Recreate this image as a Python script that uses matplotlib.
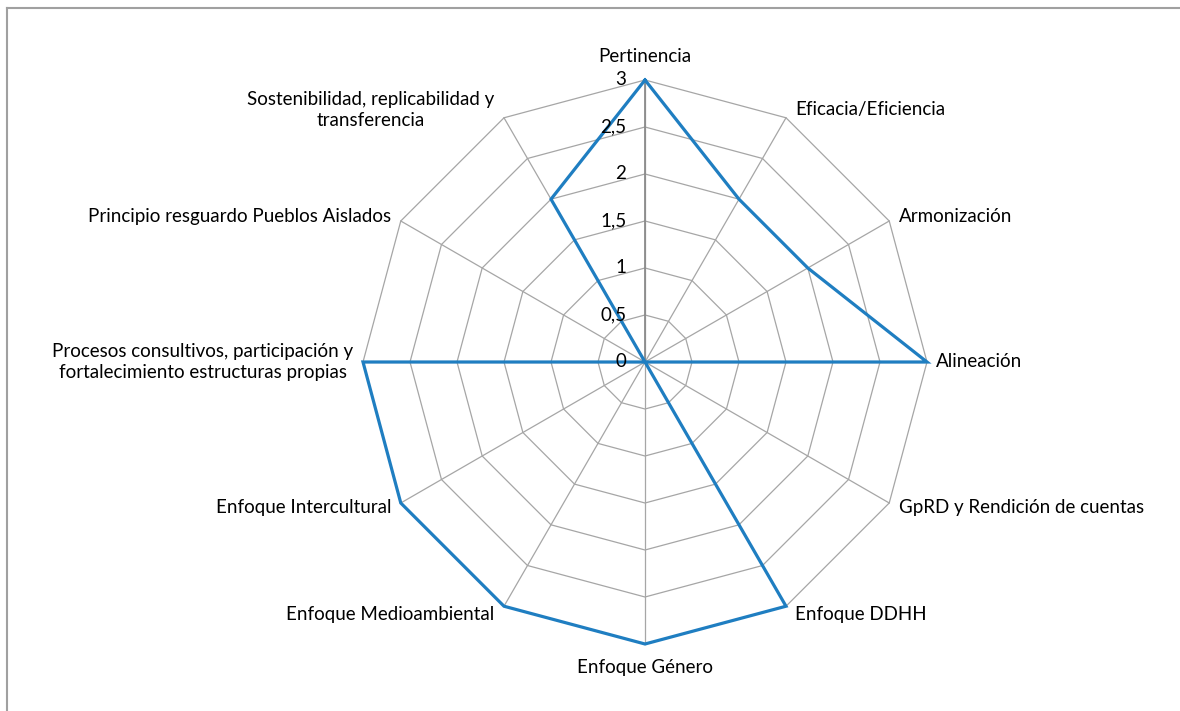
import numpy as np
import matplotlib
matplotlib.use("Agg")
import matplotlib.pyplot as plt
from matplotlib.lines import Line2D

# --- Datos --------------------------------------------------------------
categorias = [
    "Pertinencia",
    "Eficacia/Eficiencia",
    "Armonización",
    "Alineación",
    "GpRD y Rendición de cuentas",
    "Enfoque DDHH",
    "Enfoque Género",
    "Enfoque Medioambiental",
    "Enfoque Intercultural",
    "Procesos consultivos, participación y\nfortalecimiento estructuras propias",
    "Principio resguardo Pueblos Aislados",
    "Sostenibilidad, replicabilidad y\ntransferencia",
]
valores = [3, 2, 2, 3, 0, 3, 3, 3, 3, 3, 0, 2]
niveles = [0, 0.5, 1, 1.5, 2, 2.5, 3]
etiquetas_nivel = ["0", "0,5", "1", "1,5", "2", "2,5", "3"]

plt.rcParams["font.family"] = ["Lato", "DejaVu Sans"]

W, H = 1180, 711
cx, cy = 645, 362      # centro en píxeles
px = 94.0              # píxeles por unidad

fig = plt.figure(figsize=(W / 100, H / 100), dpi=100)
ax = fig.add_axes([0, 0, 1, 1])
ax.set_xlim(-cx / px, (W - cx) / px)
ax.set_ylim(-(H - cy) / px, cy / px)
ax.axis("off")

n = len(categorias)
ang = np.pi / 2 - np.arange(n) * 2 * np.pi / n
ux, uy = np.cos(ang), np.sin(ang)
gris = "#a6a6a6"
fs = 13.5

# anillos poligonales
for r in niveles[1:]:
    ax.plot(np.append(r * ux, r * ux[0]), np.append(r * uy, r * uy[0]),
            color=gris, lw=0.9, zorder=1)
# radios
for i in range(n):
    ax.plot([0, 3 * ux[i]], [0, 3 * uy[i]], color=gris, lw=0.9, zorder=1)
ax.plot([0, 0], [0, 3], color="#8c8c8c", lw=1.3, zorder=1)

# etiquetas de nivel
for r, t in zip(niveles, etiquetas_nivel):
    ax.text(-0.2, r, t, ha="right", va="center", fontsize=fs,
            color="black", zorder=3)

# serie
v = np.array(valores, dtype=float)
xs, ys = v * ux, v * uy
ax.plot(np.append(xs, xs[0]), np.append(ys, ys[0]),
        color="#1f7ec1", lw=2.3, solid_joinstyle="miter", zorder=2)

# etiquetas de categoría
for i, lab in enumerate(categorias):
    sx, sy = ux[i], uy[i]
    x, y = 3 * sx, 3 * sy
    if abs(sx) < 1e-6:
        ha = "center"
        va = "bottom" if sy > 0 else "top"
        y += 0.16 * np.sign(sy)
    else:
        ha = "left" if sx > 0 else "right"
        va = "center"
        x += 0.1 * np.sign(sx)
        y += 0.1 * sy
    ax.text(x, y, lab, ha=ha, va=va, fontsize=fs, multialignment="center",
            linespacing=1.3, zorder=3)

# marco
fig.add_artist(Line2D([7 / W, 7 / W], [0, 1 - 8 / H], transform=fig.transFigure,
                      color="#a0a0a0", lw=1.5))
fig.add_artist(Line2D([7 / W, 1], [1 - 8 / H, 1 - 8 / H], transform=fig.transFigure,
                      color="#a0a0a0", lw=1.5))

fig.savefig("out.png", dpi=100)
